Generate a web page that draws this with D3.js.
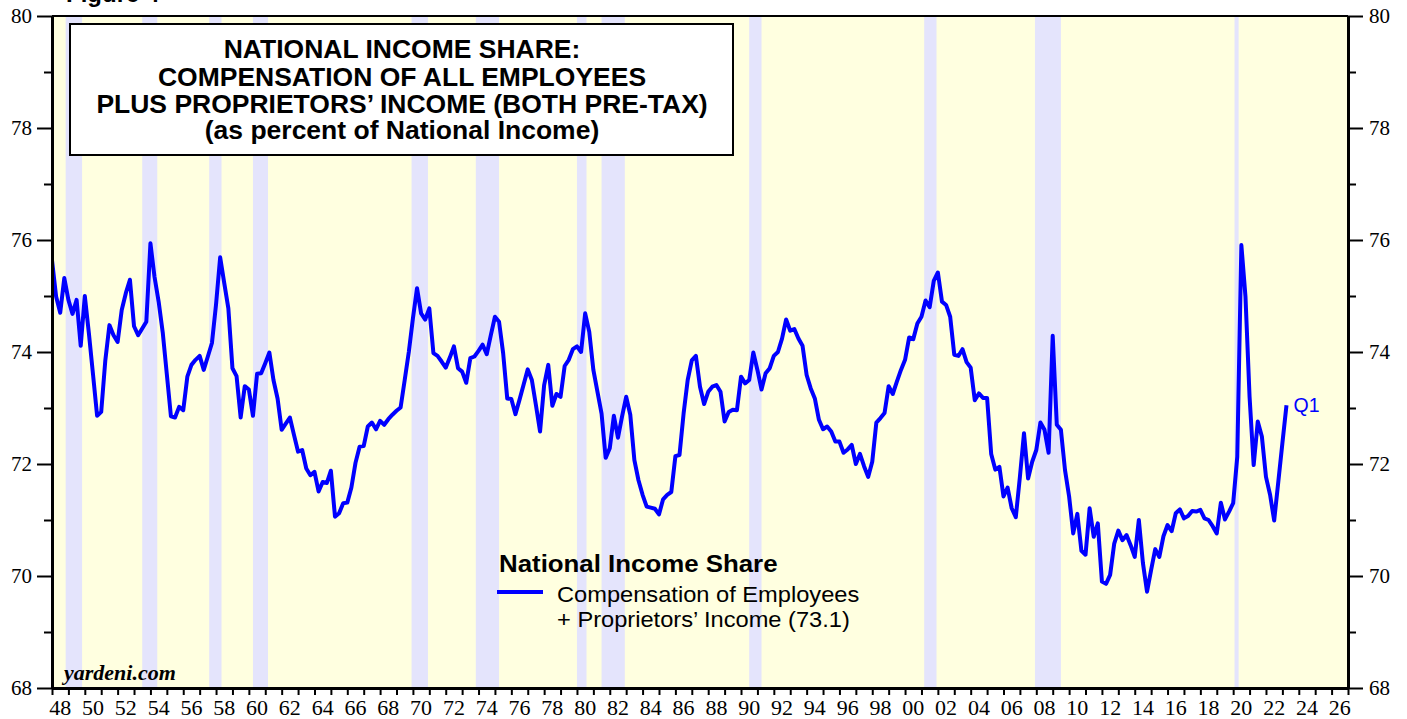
<!DOCTYPE html>
<html>
<head>
<meta charset="utf-8">
<script src="https://d3js.org/d3.v7.min.js"></script>
<style>
  body { margin: 0; background: #fff; }
  svg { display: block; }
</style>
</head>
<body>
<svg id="chart" width="1407" height="719"></svg>
<script>
// quarterly share (%), first value is 1947 Q4, each plotted at quarter end
const firstQuarterEnd = 1948.0;
const shareValues = [
  75.64,
  74.99, 74.70, 75.32, 74.93,  // 1948
  74.68, 74.93, 74.11, 75.00,
  74.33, 73.60, 72.86, 72.93,  // 1950
  73.85, 74.48, 74.30, 74.18,
  74.75, 75.05, 75.29, 74.46,
  74.30, 74.42, 74.54, 75.94,
  75.34, 74.90, 74.35, 73.60,
  72.85, 72.83, 73.02, 72.96,  // 1955
  73.56, 73.77, 73.86, 73.93,
  73.68, 73.92, 74.16, 74.85,
  75.69, 75.23, 74.78, 73.71,
  73.57, 72.83, 73.39, 73.33,
  72.86, 73.61, 73.62, 73.80,  // 1960
  73.99, 73.50, 73.17, 72.61,
  72.72, 72.83, 72.52, 72.22,
  72.25, 71.92, 71.80, 71.86,
  71.51, 71.68, 71.66, 71.88,
  71.06, 71.12, 71.30, 71.31,  // 1965
  71.58, 72.02, 72.31, 72.32,
  72.67, 72.74, 72.62, 72.77,
  72.70, 72.80, 72.88, 72.95,
  73.01, 73.50, 74.00, 74.60,
  75.14, 74.69, 74.58, 74.78,  // 1970
  73.98, 73.93, 73.83, 73.72,
  73.90, 74.10, 73.71, 73.65,
  73.45, 73.89, 73.92, 74.02,
  74.13, 73.96, 74.30, 74.63,
  74.54, 73.98, 73.17, 73.16,  // 1975
  72.89, 73.15, 73.42, 73.69,
  73.50, 73.05, 72.58, 73.41,
  73.77, 73.04, 73.25, 73.20,
  73.75, 73.86, 74.05, 74.10,
  74.00, 74.69, 74.36, 73.68,  // 1980
  73.29, 72.90, 72.11, 72.28,
  72.86, 72.47, 72.85, 73.20,
  72.88, 72.07, 71.71, 71.45,
  71.24, 71.22, 71.20, 71.10,
  71.37, 71.45, 71.50, 72.14,  // 1985
  72.16, 72.90, 73.50, 73.85,
  73.93, 73.38, 73.07, 73.29,
  73.38, 73.41, 73.29, 72.76,
  72.93, 72.97, 72.96, 73.56,
  73.44, 73.50, 73.99, 73.68,  // 1990
  73.33, 73.62, 73.71, 73.93,
  74.00, 74.24, 74.58, 74.38,
  74.41, 74.24, 74.11, 73.59,
  73.35, 73.17, 72.79, 72.62,
  72.67, 72.58, 72.40, 72.40,  // 1995
  72.20, 72.26, 72.34, 72.00,
  72.18, 71.96, 71.77, 72.04,
  72.74, 72.82, 72.91, 73.39,
  73.25, 73.47, 73.68, 73.86,
  74.26, 74.23, 74.51, 74.63,  // 2000
  74.92, 74.80, 75.27, 75.42,
  74.90, 74.84, 74.63, 73.95,
  73.93, 74.05, 73.82, 73.72,
  73.14, 73.26, 73.18, 73.18,
  72.18, 71.90, 71.95, 71.42,  // 2005
  71.58, 71.21, 71.05, 71.77,
  72.55, 71.74, 72.04, 72.25,
  72.74, 72.61, 72.20, 74.29,
  72.70, 72.61, 71.89, 71.42,
  70.76, 71.11, 70.45, 70.38,  // 2010
  71.21, 70.70, 70.94, 69.90,
  69.86, 70.02, 70.58, 70.81,
  70.64, 70.73, 70.55, 70.34,
  71.00, 70.23, 69.72, 70.11,
  70.48, 70.34, 70.71, 70.91,  // 2015
  70.80, 71.12, 71.19, 71.03,
  71.07, 71.16, 71.15, 71.18,
  71.03, 71.00, 70.89, 70.76,
  71.31, 71.01, 71.15, 71.30,
  72.13, 75.91, 74.99, 73.20,  // 2020
  71.98, 72.76, 72.49, 71.77,
  71.45, 70.99, 71.68, 72.37,
  73.05                        // 2023 Q1
];

// NBER recessions, peak month to trough month
const recessionPeaks   = ["1948-11", "1953-07", "1957-08", "1960-04", "1969-12", "1973-11",
                          "1980-01", "1981-07", "1990-07", "2001-03", "2007-12", "2020-02"];
const recessionTroughs = ["1949-10", "1954-05", "1958-04", "1961-02", "1970-11", "1975-03",
                          "1980-07", "1982-11", "1991-03", "2001-11", "2009-06", "2020-04"];

const yMajorTicks = [68, 70, 72, 74, 76, 78, 80];
const yMinorTicks = [69, 71, 73, 75, 77, 79];
const xLabelYears = [1948, 1950, 1952, 1954, 1956, 1958, 1960, 1962, 1964, 1966, 1968, 1970,
                     1972, 1974, 1976, 1978, 1980, 1982, 1984, 1986, 1988, 1990, 1992, 1994,
                     1996, 1998, 2000, 2002, 2004, 2006, 2008, 2010, 2012, 2014, 2016, 2018,
                     2020, 2022, 2024, 2026];

const titleLines = ["NATIONAL INCOME SHARE:", "COMPENSATION OF ALL EMPLOYEES",
                    "PLUS PROPRIETORS\u2019 INCOME (BOTH PRE-TAX)", "(as percent of National Income)"];
const legendTitle = "National Income Share";
const legendLines = ["Compensation of Employees", "+ Proprietors\u2019 Income (73.1)"];
const endLabel = "Q1";

const svg = d3.select("#chart");
const plot = { left: 52, right: 1348, top: 16, bottom: 688 };
const sans = "'Liberation Sans', Arial, sans-serif";
const serif = "'Liberation Serif', 'Times New Roman', serif";

const x = d3.scaleLinear().domain([1948, 2027]).range([plot.left, plot.right]);
const y = d3.scaleLinear().domain([68, 80]).range([plot.bottom, plot.top]);

const toYear = (s, end) => {
  const [yy, mm] = s.split("-").map(Number);
  return yy + (end ? mm : mm - 1) / 12;
};

// stretched sans text (source fonts run a bit wide)
function label(parent, px, py, str, size, opts = {}) {
  const g = parent.append("g")
    .attr("transform", `translate(${px},${py}) scale(${opts.sx || 1},1)`);
  return g.append("text")
    .attr("text-anchor", opts.anchor || "start")
    .attr("font-family", opts.family || sans)
    .attr("font-size", size)
    .attr("font-weight", opts.weight || "normal")
    .attr("font-style", opts.style || "normal")
    .attr("fill", opts.fill || "#000")
    .text(str);
}

// background + recession bands
svg.append("rect")
  .attr("x", plot.left).attr("y", plot.top)
  .attr("width", plot.right - plot.left).attr("height", plot.bottom - plot.top)
  .attr("fill", "#ffffe0");

svg.append("g").selectAll("rect")
  .data(recessionPeaks.map((p, i) => [toYear(p, false), toYear(recessionTroughs[i], true)]))
  .join("rect")
  .attr("x", d => x(d[0]))
  .attr("width", d => x(d[1]) - x(d[0]))
  .attr("y", plot.top)
  .attr("height", plot.bottom - plot.top)
  .attr("fill", "#e4e4fc");

// partially cut figure caption at the very top
label(svg, 66, 2, "Figure 4", 24, { weight: "bold" });

// title box
svg.append("rect")
  .attr("x", 70).attr("y", 24).attr("width", 663).attr("height", 131)
  .attr("fill", "#fff").attr("stroke", "#000").attr("stroke-width", 2);
const titleBase = [58, 86, 113, 139];
titleLines.forEach((t, i) => label(svg, 402, titleBase[i], t, 25, { weight: "bold", anchor: "middle", sx: 1.06 }));

// data line
svg.append("clipPath").attr("id", "clip")
  .append("rect")
  .attr("x", plot.left).attr("y", plot.top)
  .attr("width", plot.right - plot.left).attr("height", plot.bottom - plot.top);

const series = shareValues.map((v, i) => ({ t: firstQuarterEnd + i / 4, v: v }));
const line = d3.line().x(d => x(d.t)).y(d => y(d.v));

svg.append("path")
  .datum(series)
  .attr("clip-path", "url(#clip)")
  .attr("d", line)
  .attr("fill", "none")
  .attr("stroke", "#0000ff")
  .attr("stroke-width", 4)
  .attr("stroke-linejoin", "round");

const last = series[series.length - 1];
label(svg, x(last.t) + 7, y(last.v) + 7, endLabel, 19.5, { fill: "#0000ff" });

// axes
function styleAxis(g, w) {
  g.select(".domain").attr("stroke-width", w);
  g.selectAll(".tick line").attr("stroke-width", 2);
  g.selectAll(".tick text").attr("font-family", serif).attr("font-size", 21).attr("fill", "#000");
}

svg.append("g").attr("transform", `translate(${plot.left},0)`)
  .call(d3.axisLeft(y).tickValues(yMinorTicks).tickSize(8).tickFormat(""))
  .call(g => { g.select(".domain").remove(); g.selectAll(".tick line").attr("stroke-width", 2); });
svg.append("g").attr("transform", `translate(${plot.right},0)`)
  .call(d3.axisRight(y).tickValues(yMinorTicks).tickSize(8).tickFormat(""))
  .call(g => { g.select(".domain").remove(); g.selectAll(".tick line").attr("stroke-width", 2); });

svg.append("g").attr("transform", `translate(${plot.left},0)`)
  .call(d3.axisLeft(y).tickValues(yMajorTicks).tickSize(15).tickSizeOuter(0).tickPadding(5).tickFormat(d3.format("d")))
  .call(g => styleAxis(g, 3));
svg.append("g").attr("transform", `translate(${plot.right},0)`)
  .call(d3.axisRight(y).tickValues(yMajorTicks).tickSize(15).tickSizeOuter(0).tickPadding(6).tickFormat(d3.format("d")))
  .call(g => styleAxis(g, 3));

svg.append("g").attr("transform", `translate(0,${plot.bottom})`)
  .call(d3.axisBottom(x).tickValues(d3.range(1948, 2028)).tickSize(7).tickSizeOuter(0).tickFormat(""))
  .call(g => styleAxis(g, 3));

svg.append("line")
  .attr("x1", plot.left).attr("x2", plot.right)
  .attr("y1", plot.top).attr("y2", plot.top)
  .attr("stroke", "#000").attr("stroke-width", 2);

svg.append("g").selectAll("text")
  .data(xLabelYears)
  .join("text")
  .attr("x", d => x(d + 0.5))
  .attr("y", 715)
  .attr("text-anchor", "middle")
  .attr("font-family", serif)
  .attr("font-size", 22)
  .text(d => String(d % 100).padStart(2, "0"));

// legend
label(svg, 499, 572, legendTitle, 23.5, { weight: "bold", sx: 1.1 });
svg.append("line")
  .attr("x1", 497).attr("x2", 543).attr("y1", 592).attr("y2", 592)
  .attr("stroke", "#0000ff").attr("stroke-width", 4);
label(svg, 557, 602, legendLines[0], 21.5, { sx: 1.1 });
label(svg, 557, 627, legendLines[1], 21.5, { sx: 1.1 });

// source
label(svg, 64, 680, "yardeni.com", 22, { family: serif, weight: "bold", style: "italic" });
</script>
</body>
</html>
